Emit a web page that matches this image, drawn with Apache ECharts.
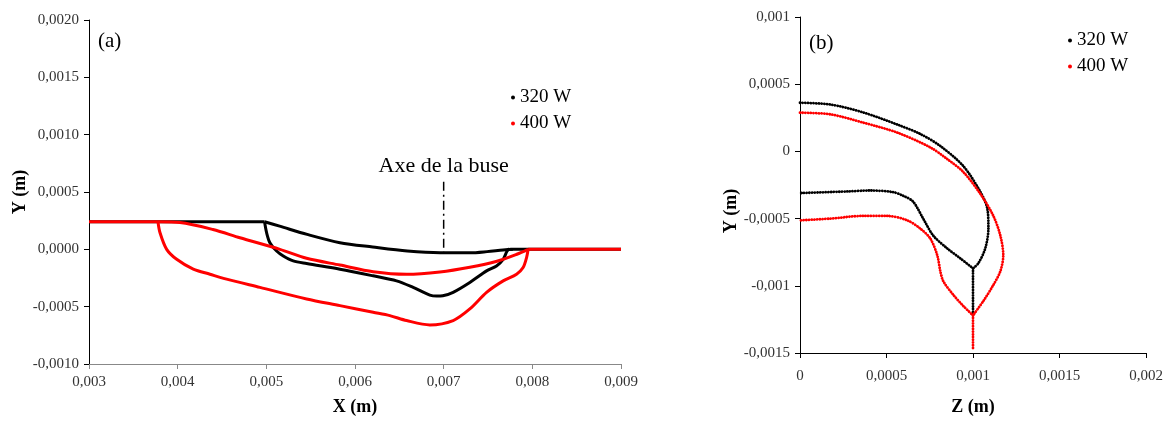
<!DOCTYPE html>
<html>
<head>
<meta charset="utf-8">
<script src="https://cdn.jsdelivr.net/npm/echarts@6/dist/echarts.min.js"></script>
<style>
html,body{margin:0;padding:0;background:#fff;}
#chart{width:1168px;height:421px;}
</style>
</head>
<body>
<div id="chart"></div>
<script>
// ---------- Data ----------
const seriesNames = ['320 W', '400 W'];

// Panel (a): X (m) vs Y (m)
const a320_surfaceLeft = [[0.003, 0.00024], [0.00498, 0.00024]];
const a320_surface = [[0.00498, 0.00024], [0.00515, 0.000202], [0.00546, 0.00013], [0.00583, 0.000058], [0.0062, 0.00002], [0.00659, -0.000015], [0.00696, -0.00003], [0.0073, -0.00003], [0.00749, -0.00002], [0.00767, -0.000006], [0.00778, 0]];
const a320_pool = [[0.00498, 0.00024], [0.005003, 0.000145], [0.00504, 0.000058], [0.005116, -0.000015], [0.005191, -0.000058], [0.005303, -0.000101], [0.005454, -0.000124], [0.00583, -0.000173], [0.006205, -0.000231], [0.006469, -0.000275], [0.006656, -0.000332], [0.006844, -0.000399], [0.00692, -0.000408], [0.00699, -0.000405], [0.007107, -0.000375], [0.007295, -0.000289], [0.007484, -0.000188], [0.007596, -0.000145], [0.007671, -0.000087], [0.007716, -0.000015], [0.007746, 0.000006]];
const a320_surfaceRight = [[0.00775, 0], [0.009, 0]];

const a400_surfaceLeft = [[0.003, 0.00024], [0.003778, 0.00024]];
const a400_surface = [[0.003778, 0.00024], [0.004026, 0.000234], [0.004398, 0.000173], [0.004702, 0.000101], [0.005153, 0], [0.005454, -0.000078], [0.00583, -0.000137], [0.006205, -0.000195], [0.006582, -0.000217], [0.006957, -0.000197], [0.007295, -0.000156], [0.0076, -0.000104], [0.007825, -0.000043], [0.007953, 0]];
const a400_pool = [[0.003778, 0.00024], [0.0038, 0.000147], [0.003876, 0], [0.003989, -0.000087], [0.004176, -0.000173], [0.004364, -0.000217], [0.004552, -0.00026], [0.004928, -0.000332], [0.005454, -0.000433], [0.00583, -0.000491], [0.006205, -0.000549], [0.006393, -0.000578], [0.006582, -0.000621], [0.006844, -0.000659], [0.007107, -0.000621], [0.007295, -0.00052], [0.007484, -0.000375], [0.007671, -0.000275], [0.007822, -0.000217], [0.007896, -0.000159], [0.007935, -0.000072], [0.007953, 0]];
const a400_surfaceRight = [[0.007953, 0], [0.009, 0]];

const nozzleAxis = [[0.007, 0.00059], [0.007, -0.00003]];
const nozzleLabel = 'Axe de la buse';

// Panel (b): Z (m) vs Y (m)
const b320_outer = [[0, 0.000362], [0.000174, 0.000349], [0.000365, 0.00029], [0.000562, 0.0002], [0.000695, 0.00013], [0.000811, 0.00004], [0.000944, -0.000109], [0.001042, -0.0003], [0.001083, -0.000426], [0.001089, -0.000574], [0.001071, -0.000721], [0.001031, -0.000832], [0.001, -0.00087]];
const b320_inner = [[0.001, -0.00087], [0.000926, -0.000795], [0.000851, -0.000722], [0.00077, -0.000626], [0.000712, -0.0005], [0.000654, -0.000374], [0.000596, -0.00033], [0.000538, -0.000303], [0.000405, -0.000291], [0.000272, -0.000298], [0, -0.00031]];
const b320_axis = [[0.001, -0.00087], [0.001, -0.00122]];

const b400_outer = [[0, 0.000288], [0.000174, 0.000276], [0.000365, 0.000214], [0.000562, 0.00014], [0.000753, 0.00003], [0.000851, -0.000057], [0.000944, -0.000153], [0.001042, -0.000315], [0.001117, -0.000478], [0.001158, -0.000626], [0.001175, -0.000773], [0.001158, -0.000892], [0.001117, -0.000995], [0.00106, -0.001113], [0.001, -0.00122]];
const b400_inner = [[0.001, -0.00122], [0.000944, -0.00115], [0.000886, -0.001067], [0.000828, -0.000965], [0.000811, -0.000891], [0.000793, -0.000771], [0.000753, -0.000648], [0.000695, -0.000574], [0.00062, -0.000513], [0.000504, -0.00048], [0.000365, -0.00048], [0.000174, -0.0005], [0, -0.000513]];
const b400_axis = [[0.001, -0.00122], [0.001, -0.00148]];

// ---------- Chart ----------
const FONT = 'Liberation Serif';
const chart = echarts.init(document.getElementById('chart'), null, {renderer: 'canvas'});

const fmtFixed = d => v => v.toFixed(d).replace('.', ',');
const fmtShort = v => String(parseFloat(v.toPrecision(6))).replace('.', ',');

function axisCommon(color) {
  return {
    axisLine: {onZero: false, lineStyle: {color: color, width: 1}},
    axisTick: {show: true, inside: false, length: 5, lineStyle: {color: color}},
    splitLine: {show: false},
    axisLabel: {color: '#333', fontFamily: FONT, fontSize: 15},
    nameTextStyle: {color: '#000', fontFamily: FONT, fontSize: 18, fontWeight: 'bold'}
  };
}

function lineSeries(name, data, color, xi, style) {
  return Object.assign({
    type: 'line', name: name, data: data, xAxisIndex: xi, yAxisIndex: xi,
    showSymbol: false, symbol: 'none', smooth: 0.3, color: color,
    lineStyle: {color: color, width: 3}, emphasis: {disabled: true}, z: 2
  }, style || {});
}
const dotStyle = c => ({lineStyle: {color: c, width: 2.8, type: [0.1, 2.6], cap: 'round'}});

const option = {
  animation: false,
  backgroundColor: '#fff',
  textStyle: {fontFamily: FONT},
  grid: [
    {left: 89, top: 20, width: 532, height: 346},
    {left: 800, top: 17, width: 346, height: 338}
  ],
  xAxis: [
    Object.assign(axisCommon('#888'), {
      type: 'value', gridIndex: 0, min: 0.003, max: 0.009, interval: 0.001,
      name: 'X (m)', nameLocation: 'middle', nameGap: 34,
      axisLabel: {color: '#333', fontFamily: FONT, fontSize: 15, margin: 11, formatter: fmtFixed(3)}
    }),
    Object.assign(axisCommon('#000'), {
      type: 'value', gridIndex: 1, min: 0, max: 0.002, interval: 0.0005,
      name: 'Z (m)', nameLocation: 'middle', nameGap: 45,
      axisLabel: {color: '#333', fontFamily: FONT, fontSize: 15, margin: 16, formatter: fmtShort}
    })
  ],
  yAxis: [
    Object.assign(axisCommon('#000'), {
      type: 'value', gridIndex: 0, min: -0.001, max: 0.002, interval: 0.0005,
      name: 'Y (m)', nameLocation: 'middle', nameGap: 60,
      axisLabel: {color: '#333', fontFamily: FONT, fontSize: 15, margin: 10, formatter: fmtFixed(4)}
    }),
    Object.assign(axisCommon('#000'), {
      type: 'value', gridIndex: 1, min: -0.0015, max: 0.001, interval: 0.0005,
      name: 'Y (m)', nameLocation: 'middle', nameGap: 56,
      nameTextStyle: {color: '#000', fontFamily: FONT, fontSize: 18, fontWeight: 'bold', padding: [0, 0, 0, -52]},
      axisLabel: {color: '#333', fontFamily: FONT, fontSize: 15, margin: 10, formatter: fmtShort}
    })
  ],
  legend: [
    {data: seriesNames, orient: 'vertical', left: 506, top: 83, icon: 'circle', itemWidth: 4, itemHeight: 4, itemGap: 7,
     textStyle: {fontFamily: FONT, fontSize: 19, color: '#000'}, selectedMode: false},
    {data: seriesNames, orient: 'vertical', left: 1063, top: 26, icon: 'circle', itemWidth: 4, itemHeight: 4, itemGap: 7,
     textStyle: {fontFamily: FONT, fontSize: 19, color: '#000'}, selectedMode: false}
  ],
  graphic: [
    {type: 'text', left: 98, top: 31, style: {text: '(a)', font: '21px "Liberation Serif"', fill: '#000'}},
    {type: 'text', left: 809, top: 33, style: {text: '(b)', font: '21px "Liberation Serif"', fill: '#000'}}
  ],
  series: [
    lineSeries('320 W', a320_surfaceLeft, '#000', 0),
    lineSeries('320 W', a320_surface, '#000', 0),
    lineSeries('320 W', a320_pool, '#000', 0),
    lineSeries('320 W', a320_surfaceRight, '#000', 0),
    lineSeries('400 W', a400_surfaceLeft, '#ff0000', 0),
    lineSeries('400 W', a400_surface, '#ff0000', 0),
    lineSeries('400 W', a400_pool, '#ff0000', 0),
    lineSeries('400 W', a400_surfaceRight, '#ff0000', 0),
    {
      type: 'line', name: 'axe', xAxisIndex: 0, yAxisIndex: 0, showSymbol: true, symbol: 'circle', symbolSize: 0.01,
      data: [{value: nozzleAxis[0], label: {show: true, position: 'top', distance: 4, formatter: nozzleLabel, fontFamily: FONT, fontSize: 22, color: '#000'}}, {value: nozzleAxis[1]}],
      lineStyle: {color: '#000', width: 1.5, type: [9, 4, 2, 4]}, emphasis: {disabled: true}, z: 3
    },
    lineSeries('320 W', b320_outer, '#000', 1, dotStyle('#000')),
    lineSeries('320 W', b320_inner, '#000', 1, dotStyle('#000')),
    lineSeries('320 W', b320_axis, '#000', 1, dotStyle('#000')),
    lineSeries('400 W', b400_outer, '#ff0000', 1, dotStyle('#ff0000')),
    lineSeries('400 W', b400_inner, '#ff0000', 1, dotStyle('#ff0000')),
    lineSeries('400 W', b400_axis, '#ff0000', 1, dotStyle('#ff0000'))
  ]
};
chart.setOption(option);
</script>
</body>
</html>
